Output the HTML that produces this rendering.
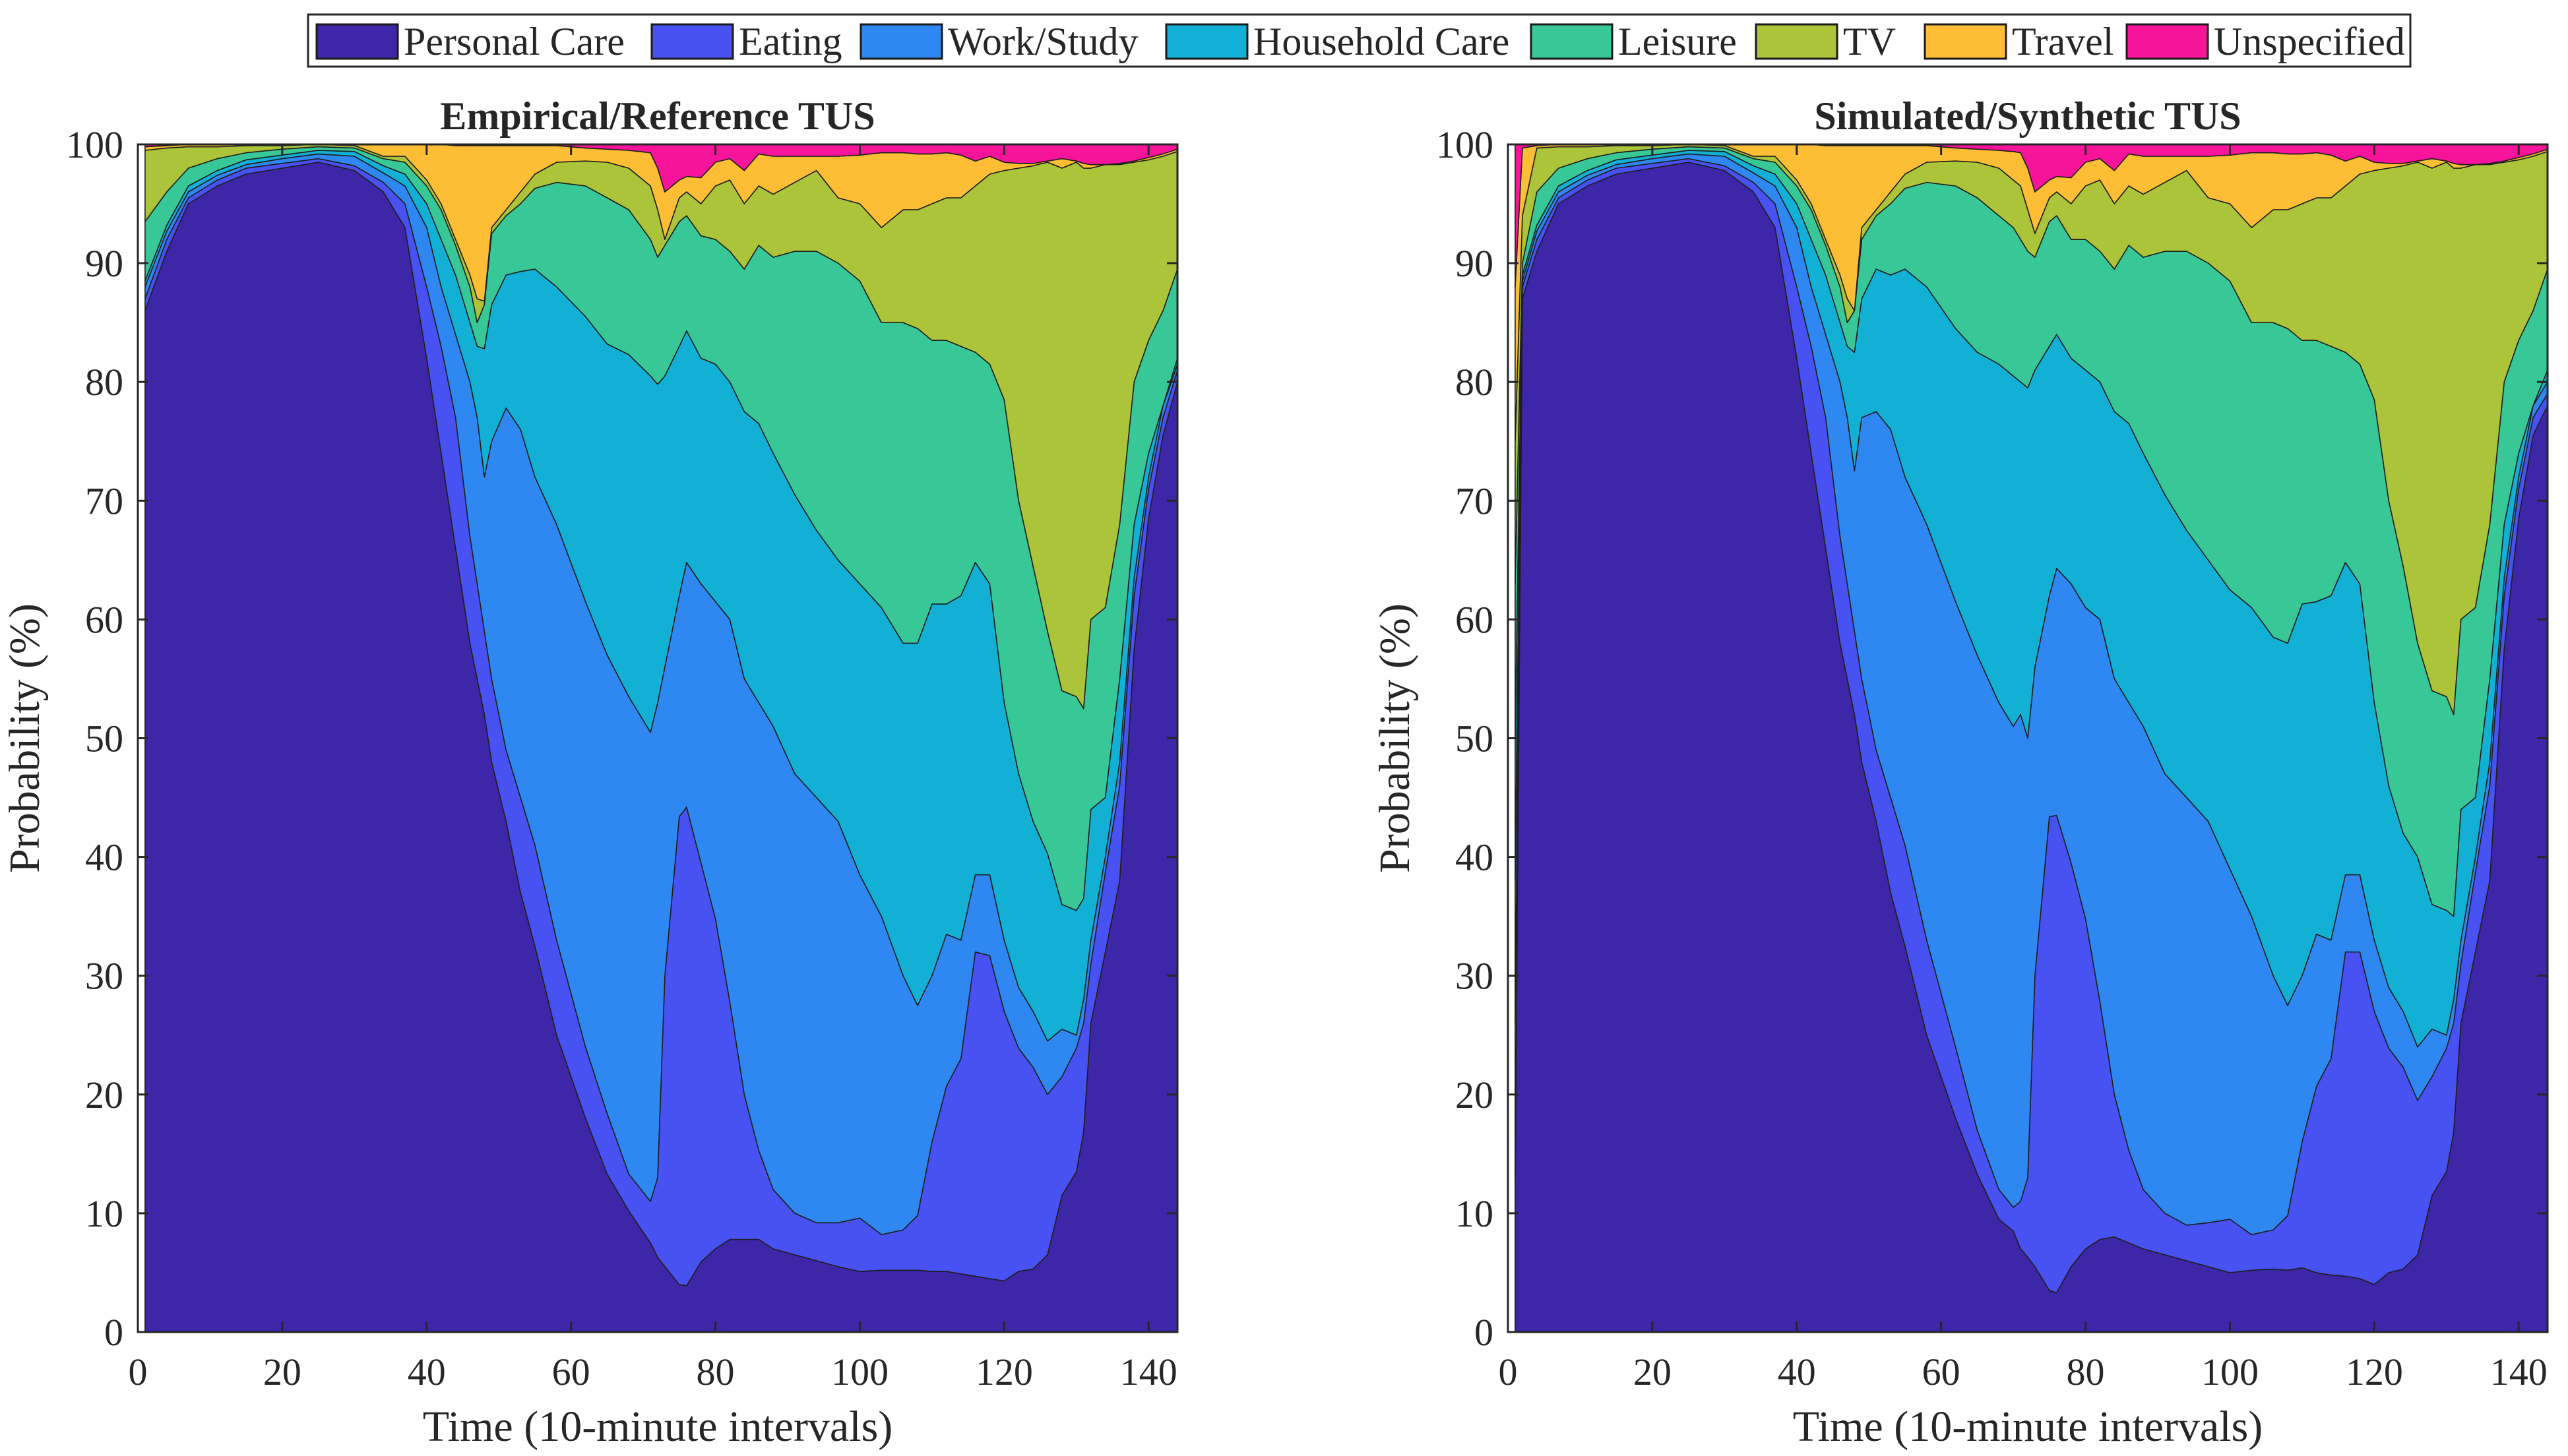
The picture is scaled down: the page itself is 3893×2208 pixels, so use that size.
<!DOCTYPE html>
<html><head><meta charset="utf-8"><style>
html,body{margin:0;padding:0;background:#fff;}
svg{display:block;}
text{font-family:"Liberation Serif",serif;fill:#262626;}
</style></head><body>
<svg id="chart" width="3893" height="2208" viewBox="0 0 3893 2208" xmlns="http://www.w3.org/2000/svg">
<g id="legend"></g>
<g id="p0"></g>
<g id="p1"></g>
</svg>
<script>
// ---- data: cumulative stacked boundaries (%) ----
const categories = ["Personal Care","Eating","Work/Study","Household Care","Leisure","TV","Travel","Unspecified"];
const colors = ["#3e26a8","#4852f2","#2f88f2","#13b0d6","#38c898","#abc43a","#fdbd34","#f7149a"];
const timeTicks = [0,20,40,60,80,100,120,140];
const probTicks = [0,10,20,30,40,50,60,70,80,90,100];

const empTime = [1,4,7,11,15,20,25,30,34,37,40,42,44,46,47,48,49,51,53,55,58,62,65,68,71,72,73,75,76,78,80,82,84,86,88,91,94,97,100,103,106,108,110,112,114,116,118,120,122,124,126,128,130,131,132,134,136,138,140,142,144];
const empPersonalCare = [86,91,95,96.5,97.5,98,98.5,97.8,96,93,82,74,66,58,55,52,48,43,37,32.5,25,18,13.3,10.2,7.5,6.3,5.5,4,3.9,5.9,7,7.8,7.8,7.8,7,6.5,6,5.5,5.1,5.2,5.2,5.2,5.1,5.1,4.9,4.7,4.5,4.3,5.1,5.3,6.5,11.5,13.5,16.8,26,32,38,57.5,68.5,75.5,80];
const empEating = [87,92,95.5,97,98,98.4,98.8,98.2,96.8,95,88,83,77,67,63,59,55,49,45,41,33,24,18.4,13.3,11,13,30,43.4,44.2,39.5,34.8,27.8,20,15.3,12,10,9.2,9.2,9.6,8.2,8.6,9.8,16,20.7,23,32,31.7,27,23.9,22.3,20,21.5,23.9,26,31,38.7,46,62,71,77,81];
const empWork = [88,92.7,96,97.4,98.3,98.8,99.2,99,97.6,96.5,93,88,84,80,77,72,75,77.8,76,72,68,61.5,57,53.5,50.5,53,56,62,64.8,63,61.5,60,55,53,51,47,45,43,38.5,35,30,27.5,30,33.5,33,38.5,38.5,33,29,27,24.5,25.5,25,28,33,40,48,63.5,72,78,81.5];
const empHousehold = [88.5,93.2,96.5,97.8,98.7,99.1,99.5,99.4,98.2,97.5,95,92,89,85,83,82.8,86.5,89,89.3,89.5,88,85.5,83.2,82.3,80.5,79.8,80.5,83,84.3,82,81.5,80,77.5,76.5,74,70.5,67.5,65,63,61,58,58,61.3,61.3,62,64.8,63,53,47,43,40.3,36,35.5,36.5,44,45,55,68,74,78,82];
const empLeisure = [93.5,96,98,98.8,99.3,99.6,99.8,99.7,98.8,98.5,96.5,94.5,91.5,88,85,86.5,92.5,94,95,96.3,96.8,96.5,95.5,94.5,92,90.5,91.5,93.5,94,92.3,92,91,89.5,91.5,90.5,91,91,90,88.5,85,85,84.5,83.5,83.5,83,82.5,81.5,78.5,70,64.5,59,54,53.5,52.5,60,61,68,80,83.5,86,89.5];
const empTV = [99.5,99.7,99.8,99.8,99.9,99.9,100,99.9,99,99,97,95,92,89,87,86.8,93,94.5,96,97.5,98.5,98.6,98.5,98,96.5,94.5,92,95.5,96,95,96.5,97,95,96.5,95.8,96.8,97.8,95.5,95,93,94.5,94.5,95,95.5,95.5,96.5,97.5,97.8,98,98.2,98.5,98,98.5,98,98,98.3,98.3,98.5,98.7,99,99.4];
const empTravel = [99.8,99.9,100,100,100,100,100,100,100,100,100,100,99.9,99.9,99.9,99.9,99.9,99.9,99.9,99.9,99.9,99.7,99.6,99.5,99.3,98,96,97,97.3,97.2,98.5,98.8,97.8,99.2,99,99,99,99,99.1,99.3,99.3,99.2,99.2,99.3,99.1,98.6,99,98.5,98.4,98.4,98.6,98.8,98.6,98.4,98.3,98.3,98.4,98.6,98.9,99.2,99.6];

const simTime = [1,2,4,7,11,15,20,25,30,34,37,40,42,44,46,47,48,49,51,53,55,58,62,65,68,70,71,72,73,75,76,78,80,82,84,86,88,91,94,97,100,103,106,108,110,112,114,116,118,120,122,124,126,128,130,131,132,134,136,138,140,142,144];
const simPersonalCare = [13,87,91,95,96.5,97.5,98,98.5,97.8,96,93,82,74,66,58,55,52,48,43,37,32.5,25,18,13.3,9.5,8.5,7,6.3,5.5,3.5,3.3,5.5,7,7.8,8,7.5,7,6.5,6,5.5,5,5.2,5.3,5.2,5.4,5,4.8,4.7,4.5,4,5,5.3,6.5,11.5,13.5,16.8,26,32,38,57.5,68.5,75.5,78];
const simEating = [26,88,92,95.5,97,98,98.4,98.8,98.2,96.8,95,88,83,77,67,63,59,55,49,45,41,33,24,17,12,10.5,11,13,30,43.4,43.5,39.5,34.8,27.8,20,15.3,12,10,9,9.2,9.5,8.2,8.6,9.8,16,20.7,23,32,32,27,23.9,22.3,19.5,21.5,23.9,26,31,38.7,46,62,71,77,79];
const simWork = [38,88.5,92.7,96,97.4,98.3,98.8,99.2,99,97.6,96.5,93,88,84,80,77,72.5,77,77.5,76,72,68,61.5,57,53,51,52,50,56,62,64.3,63,61,60,55,53,51,47,45,43,39,35,30,27.5,30,33.5,33,38.5,38.5,33,29,27,24,25.5,25,28,33,40,48,63.5,72,78,80];
const simHousehold = [50,89,93.2,96.5,97.8,98.7,99.1,99.5,99.4,98.2,97.5,95,92,89,85,83,82.5,87,89.5,89,89.5,88,84.5,82.5,81.5,80.5,80,79.5,81,83,84,82,81,80,77.5,76.5,74,70.5,67.5,65,62.5,61,58.5,58,61.3,61.5,62,64.8,63,53,46,42,40,36,35.5,35,44,45,55,68,74,78,81];
const simLeisure = [63,90,96,98,98.8,99.3,99.6,99.8,99.7,98.8,98.5,96.5,94.5,91.5,88,85,86,92,94,95,96.3,96.8,96.5,95.5,94,93,92,91,90.5,93.5,94,92,92,91,89.5,91.5,90.5,91,91,90,88.5,85,85,84.5,83.5,83.5,83,82.5,81.5,78.5,70,64.5,58,54,53.5,52,60,61,68,80,83.5,86,89.5];
const simTV = [75,94,99.7,99.8,99.8,99.9,99.9,100,99.9,99,99,97,95,92,89,87,86,93,94.5,96,97.5,98.5,98.6,98.5,98,97,96.5,94.5,92.5,95.5,96,95,96.5,97,95,96.5,95.8,96.8,97.8,95.5,95,93,94.5,94.5,95,95.5,95.5,96.5,97.5,97.8,98,98.2,98.5,98,98.5,98,98,98.3,98.3,98.5,98.7,99,99.4];
const simTravel = [88,99.7,99.9,100,100,100,100,100,100,100,100,100,100,99.9,99.9,99.9,99.9,99.9,99.9,99.9,99.9,99.9,99.7,99.6,99.5,99.4,99.3,98,96,97,97.3,97.2,98.5,98.8,97.8,99.2,99,99,99,99,99.1,99.3,99.3,99.2,99.2,99.3,99.1,98.6,99,98.5,98.4,98.4,98.6,98.8,98.6,98.4,98.3,98.3,98.4,98.6,98.9,99.2,99.6];

const NS = "http://www.w3.org/2000/svg";
function mk(tag, attrs, parent){const e=document.createElementNS(NS,tag);for(const k in attrs)e.setAttribute(k,attrs[k]);parent.appendChild(e);return e;}

// ---- legend ----
const lg = document.getElementById('legend');
const lbox = mk('rect',{x:467,y:22,width:3187,height:79,fill:'#fff',stroke:'#262626','stroke-width':3},lg);


const legendX = [480,988,1305,1768,2321,2662,2918,3224];
categories.forEach((c,i)=>{
  const g = mk('g',{},lg);
  
  
  mk('rect',{x:legendX[i],y:37,width:123,height:52,fill:colors[i],stroke:'#1a1a1a','stroke-width':3},g);
  const t = mk('text',{x:legendX[i]+132,y:83,'font-size':60},g);
  t.textContent = c;
});

function drawPanel(gid, left, title, time, series){
  const g = document.getElementById(gid);
  const W = 1576, top = 219, bottom = 2020;
  const X = t => left + t*W/144;
  const Y = v => bottom - v*(bottom-top)/100;
  // areas
  series.forEach((s,i)=>{
    let d = '';
    time.forEach((t,j)=>{ d += (j?'L':'M') + X(t).toFixed(1)+','+Y(s[j]).toFixed(1); });
    for(let j=time.length-1;j>=0;j--){
      const lo = i===0 ? 0 : series[i-1][j];
      d += 'L'+X(time[j]).toFixed(1)+','+Y(lo).toFixed(1);
    }
    d += 'Z';
    const p = mk('path',{d:d,fill:colors[i],stroke:'#1e1e1e','stroke-width':1.6,'stroke-linejoin':'round'},g);
    
    
  });
  // frame
  const fr = mk('rect',{x:left,y:top,width:W,height:bottom-top,fill:'none',stroke:'#262626','stroke-width':3},g);
  
  
  // ticks + labels
  timeTicks.forEach(t=>{
    mk('line',{x1:X(t),x2:X(t),y1:bottom,y2:bottom-16,stroke:'#262626','stroke-width':3},g);
    mk('line',{x1:X(t),x2:X(t),y1:top,y2:top+16,stroke:'#262626','stroke-width':3},g);
    const tx = mk('text',{x:X(t),y:bottom+80,'font-size':58,'text-anchor':'middle'},g);
    
    
    tx.textContent = t;
  });
  probTicks.forEach(v=>{
    mk('line',{x1:left,x2:left+16,y1:Y(v),y2:Y(v),stroke:'#262626','stroke-width':3},g);
    mk('line',{x1:left+W,x2:left+W-16,y1:Y(v),y2:Y(v),stroke:'#262626','stroke-width':3},g);
    const ty = mk('text',{x:left-22,y:Y(v)+20,'font-size':58,'text-anchor':'end'},g);
    
    
    ty.textContent = v;
  });
  const tt = mk('text',{x:left+W/2,y:196,'font-size':60,'font-weight':'bold','text-anchor':'middle'},g);
  
  
  tt.textContent = title;
  const xt = mk('text',{x:left+W/2,y:2185,'font-size':66,'text-anchor':'middle'},g);
  
  
  xt.textContent = 'Time (10-minute intervals)';
  const yx = left-150, yy = (top+bottom)/2;
  const yt = mk('text',{x:yx,y:yy,'font-size':66,'text-anchor':'middle',transform:'rotate(-90 '+yx+' '+yy+')'},g);
  
  
  yt.textContent = 'Probability (%)';
}

const ones = a => a.map(()=>100);
drawPanel('p0',209,'Empirical/Reference TUS',empTime,
  [empPersonalCare,empEating,empWork,empHousehold,empLeisure,empTV,empTravel,ones(empTime)]);
drawPanel('p1',2286,'Simulated/Synthetic TUS',simTime,
  [simPersonalCare,simEating,simWork,simHousehold,simLeisure,simTV,simTravel,ones(simTime)]);
</script>
</body></html>
